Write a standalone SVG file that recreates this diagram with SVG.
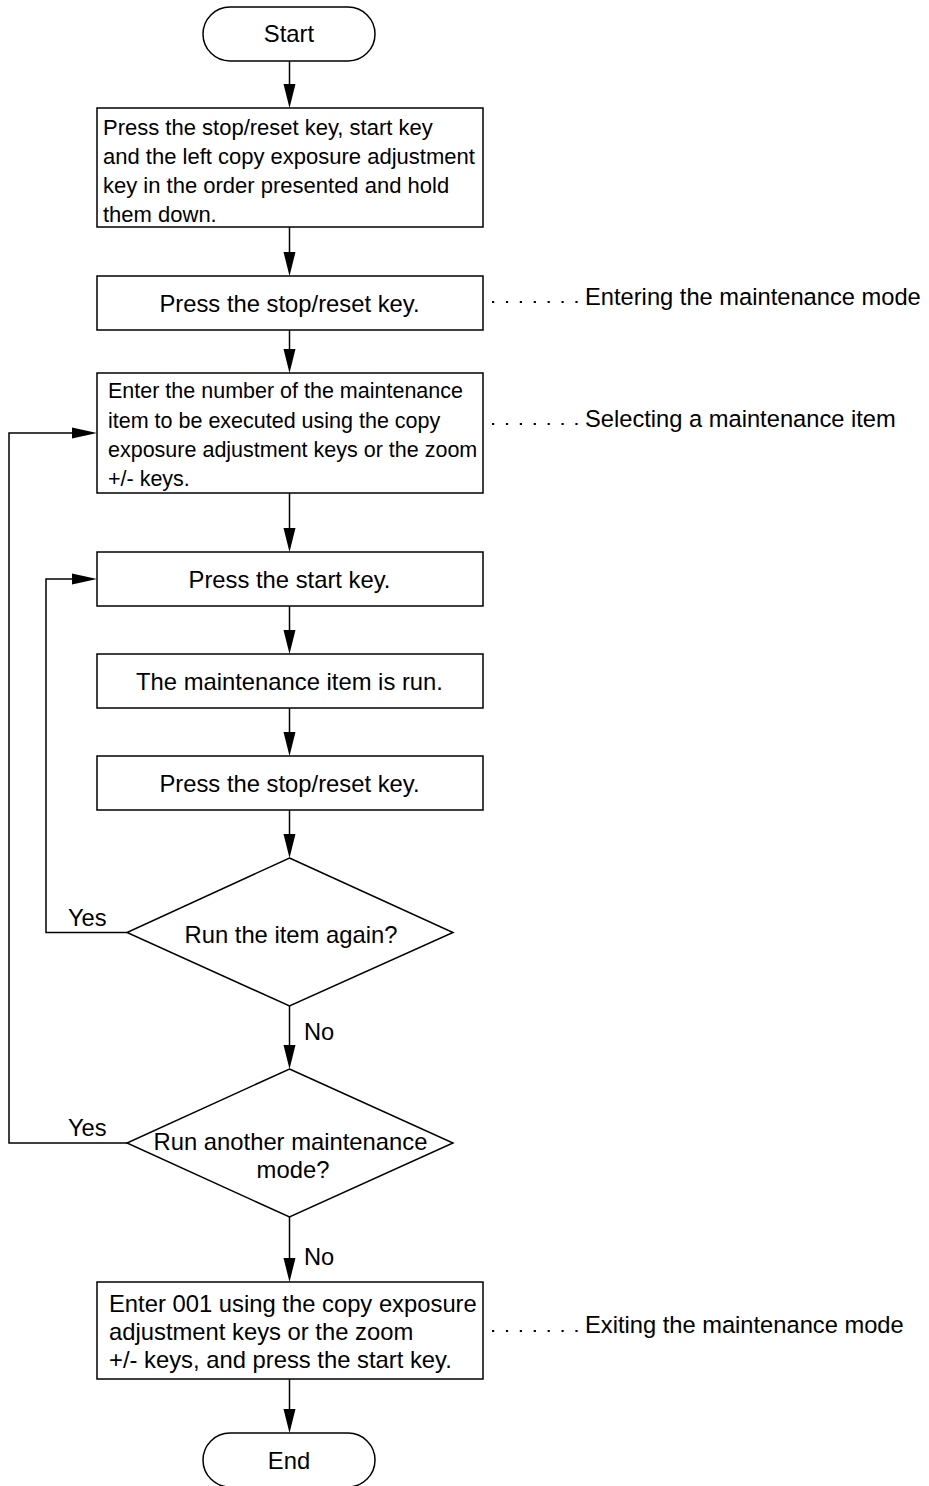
<svg xmlns="http://www.w3.org/2000/svg" width="929" height="1486" viewBox="0 0 929 1486">
<style>
.shape{fill:#fff;stroke:#000;stroke-width:1.5}
.line{fill:none;stroke:#000;stroke-width:1.5}
.head{fill:#000;stroke:none}
.t{font-family:"Liberation Sans",Arial,sans-serif;fill:#000}
.c{text-anchor:middle;font-size:23.8px}
.lbl{font-size:23.7px}
.dots{fill:none;stroke:#000;stroke-width:2.2;stroke-dasharray:2.2 11.7}
</style>
<defs>
<polygon id="ad" points="0,0 -6,-24 6,-24"/>
<polygon id="ar" points="0,0 -25,-5.5 -25,5.5"/>
</defs>
<rect width="929" height="1486" fill="#fff"/>
<g id="connectors">
<line class="line" x1="289.5" y1="61" x2="289.5" y2="90"/><use href="#ad" class="head" x="289.5" y="108"/>
<line class="line" x1="289.5" y1="227" x2="289.5" y2="258"/><use href="#ad" class="head" x="289.5" y="276"/>
<line class="line" x1="289.5" y1="330" x2="289.5" y2="355"/><use href="#ad" class="head" x="289.5" y="373"/>
<line class="line" x1="289.5" y1="493" x2="289.5" y2="534"/><use href="#ad" class="head" x="289.5" y="552"/>
<line class="line" x1="289.5" y1="606" x2="289.5" y2="636"/><use href="#ad" class="head" x="289.5" y="654"/>
<line class="line" x1="289.5" y1="708" x2="289.5" y2="738"/><use href="#ad" class="head" x="289.5" y="756"/>
<line class="line" x1="289.5" y1="810" x2="289.5" y2="840"/><use href="#ad" class="head" x="289.5" y="858"/>
<line class="line" x1="289.5" y1="1006" x2="289.5" y2="1051"/><use href="#ad" class="head" x="289.5" y="1069"/>
<line class="line" x1="289.5" y1="1217" x2="289.5" y2="1264"/><use href="#ad" class="head" x="289.5" y="1282"/>
<line class="line" x1="289.5" y1="1379" x2="289.5" y2="1415"/><use href="#ad" class="head" x="289.5" y="1433"/>
<polyline class="line" points="127,932.5 46,932.5 46,579 80,579"/><use href="#ar" class="head" x="97" y="579"/>
<polyline class="line" points="127,1143 9,1143 9,433 80,433"/><use href="#ar" class="head" x="97" y="433"/>
<text class="t lbl" x="68" y="926">Yes</text>
<text class="t lbl" x="68" y="1136">Yes</text>
<text class="t lbl" x="304" y="1040">No</text>
<text class="t lbl" x="304" y="1265">No</text>
</g>
<g id="start">
<rect class="shape" x="203" y="7" width="172" height="54" rx="27"/>
<text class="t c" x="289" y="41.5">Start</text>
</g>
<g id="step1">
<rect class="shape" x="97" y="108" width="386" height="119"/>
<text class="t" font-size="22" x="103" y="135">Press the stop/reset key, start key</text>
<text class="t" font-size="22" x="103" y="164">and the left copy exposure adjustment</text>
<text class="t" font-size="22" x="103" y="193">key in the order presented and hold</text>
<text class="t" font-size="22" x="103" y="222">them down.</text>
</g>
<g id="step2">
<rect class="shape" x="97" y="276" width="386" height="54"/>
<text class="t c" x="289.5" y="311.5">Press the stop/reset key.</text>
</g>
<g id="step3">
<rect class="shape" x="97" y="373" width="386" height="120"/>
<text class="t" font-size="21.5" x="108" y="398">Enter the number of the maintenance</text>
<text class="t" font-size="21.5" x="108" y="427.5">item to be executed using the copy</text>
<text class="t" font-size="21.5" x="108" y="457">exposure adjustment keys or the zoom</text>
<text class="t" font-size="21.5" x="108" y="486">+/- keys.</text>
</g>
<g id="step4">
<rect class="shape" x="97" y="552" width="386" height="54"/>
<text class="t c" x="289.5" y="587.5">Press the start key.</text>
</g>
<g id="step5">
<rect class="shape" x="97" y="654" width="386" height="54"/>
<text class="t c" x="289.5" y="689.5">The maintenance item is run.</text>
</g>
<g id="step6">
<rect class="shape" x="97" y="756" width="386" height="54"/>
<text class="t c" x="289.5" y="791.5">Press the stop/reset key.</text>
</g>
<g id="decision1">
<polygon class="shape" points="289.5,858 453,932.5 289.5,1006 127,932.5"/>
<text class="t c" x="291" y="942.5">Run the item again?</text>
</g>
<g id="decision2">
<polygon class="shape" points="289.5,1069 453,1143 289.5,1217 127,1143"/>
<text class="t c" x="290.5" y="1150">Run another maintenance</text>
<text class="t c" x="293" y="1178">mode?</text>
</g>
<g id="step7">
<rect class="shape" x="97" y="1282" width="386" height="97"/>
<text class="t" font-size="23.8" x="109" y="1312">Enter 001 using the copy exposure</text>
<text class="t" font-size="23.8" x="109" y="1340">adjustment keys or the zoom</text>
<text class="t" font-size="23.8" x="109" y="1368">+/- keys, and press the start key.</text>
</g>
<g id="end">
<rect class="shape" x="203" y="1433" width="172" height="54" rx="27"/>
<text class="t c" x="289" y="1468.5">End</text>
</g>
<g id="notes">
<line class="dots" x1="492" y1="302" x2="580" y2="302"/>
<text class="t lbl" x="585" y="305">Entering the maintenance mode</text>
<line class="dots" x1="492" y1="424" x2="580" y2="424"/>
<text class="t lbl" x="585" y="427">Selecting a maintenance item</text>
<line class="dots" x1="492" y1="1331" x2="580" y2="1331"/>
<text class="t lbl" x="585" y="1333">Exiting the maintenance mode</text>
</g>
</svg>
